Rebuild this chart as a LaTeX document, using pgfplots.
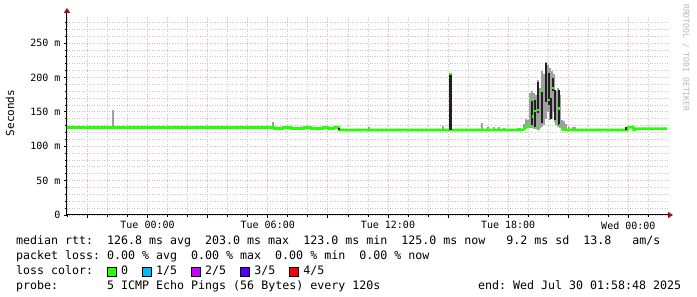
\documentclass[border=0pt]{standalone}
\usepackage{fontspec}
\setmainfont{DejaVu Sans Mono}
\setmonofont{DejaVu Sans Mono}
\usepackage{pgfplots}
\pgfplotsset{compat=1.18}
\usetikzlibrary{arrows.meta}
\definecolor{mgrid}{RGB}{240,175,175}
\definecolor{mingrid}{RGB}{200,200,200}
\definecolor{medgreen}{HTML}{26FF00}
\definecolor{smoke}{RGB}{160,160,160}
\definecolor{darksmoke}{RGB}{32,32,32}
\definecolor{arrowred}{RGB}{150,20,20}
\definecolor{lA}{HTML}{00B8FF}
\definecolor{lB}{HTML}{CC00FF}
\definecolor{lC}{HTML}{5500FF}
\definecolor{lD}{HTML}{FF0000}
\newcommand\lbox[1]{\makebox[7pt][l]{\raisebox{-1pt}{\fboxsep=0pt\fboxrule=0.8pt\fbox{\textcolor{#1}{\rule{8pt}{8.5pt}}}}}}
\begin{document}
\begin{tikzpicture}[x=1pt,y=1pt]
\path[use as bounding box, fill=white] (-67,-82) rectangle (630,215);
\begin{axis}[
  at={(0,0)}, anchor=south west, scale only axis,
  width=601pt, height=198.1pt,
  xmin=-4.02, xmax=25.98, ymin=0, ymax=288,
  no markers,
  axis x line=bottom, axis y line=left,
  axis line style={black, line width=1pt},
  x axis line style={-{Triangle[length=5pt,width=6pt,color=arrowred]}, shorten >=-5pt},
  y axis line style={-{Triangle[length=5pt,width=6pt,color=arrowred]}, shorten >=-9pt},
  tick align=outside, major tick length=3pt, minor tick length=2pt,
  tick style={black, line width=0.7pt},
  xtick={-3,0,...,24},
  xticklabels={,Tue 00:00,,Tue 06:00,,Tue 12:00,,Tue 18:00,,Wed 00:00},
  minor xtick={-4,-2,-1,1,2,4,5,7,8,10,11,13,14,16,17,19,20,22,23,25},
  ytick={0,50,...,250},
  yticklabels={0,50 m,100 m,150 m,200 m,250 m},
  minor ytick={10,20,30,40,60,70,80,90,110,120,130,140,160,170,180,190,210,220,230,240,260,270,280},
  grid=both,
  major grid style={mgrid, line width=0.7pt, dash pattern=on 1pt off 1.5pt},
  minor grid style={mingrid, line width=0.7pt, dash pattern=on 1pt off 1.5pt},
  tick label style={font=\fontsize{10}{12}\selectfont\ttfamily},
]
% gray smoke
\addplot[smoke, line width=2pt, unbounded coords=jump] coordinates {
(-1.725,127) (-1.725,152) (-1.725,nan)
(6.285,127) (6.285,135) (6.285,nan)
(11.05,124) (11.05,128) (11.05,nan)
(14.75,124) (14.75,130) (14.75,nan)
(16.7,124) (16.7,134) (16.7,nan)
(17.0,124) (17.0,127.5) (17.0,nan)
(17.3,124) (17.3,128.5) (17.3,nan)
(17.55,124) (17.55,128) (17.55,nan)
(17.8,124) (17.8,126.5) (17.8,nan)
(18.5,124) (18.5,127) (18.5,nan)
(18.6,124) (18.6,127) (18.6,nan)
(18.8,125) (18.8,133) (18.8,nan)
(18.9,126) (18.9,140) (18.9,nan)
(19.0,126) (19.0,138) (19.0,nan)
(19.1,126) (19.1,178) (19.1,nan)
(19.2,126) (19.2,180) (19.2,nan)
(19.3,125) (19.3,178) (19.3,nan)
(19.4,125) (19.4,175) (19.4,nan)
(19.5,124) (19.5,196) (19.5,nan)
(19.6,126) (19.6,185) (19.6,nan)
(19.7,128) (19.7,209) (19.7,nan)
(19.8,131) (19.8,205) (19.8,nan)
(19.9,140) (19.9,222) (19.9,nan)
(20.0,150) (20.0,218) (20.0,nan)
(20.1,138) (20.1,213) (20.1,nan)
(20.2,140) (20.2,210) (20.2,nan)
(20.3,150) (20.3,205) (20.3,nan)
(20.4,131) (20.4,180) (20.4,nan)
(20.5,128) (20.5,185) (20.5,nan)
(20.6,126) (20.6,175) (20.6,nan)
(20.7,124) (20.7,138) (20.7,nan)
(20.8,124) (20.8,136) (20.8,nan)
(20.9,124) (20.9,132) (20.9,nan)
(21.05,124) (21.05,128) (21.05,nan)
(21.25,124) (21.25,128) (21.25,nan)
(21.35,124) (21.35,128) (21.35,nan)
};
% median line
\addplot[medgreen, line width=2.6pt, unbounded coords=jump] coordinates {
(-4.02,127.2) (6.3,127.2) (6.32,125.8) (6.75,125.8) (6.77,127.2) (7.15,127.2)
(7.17,125.8) (7.8,125.8) (7.82,127.2) (8.15,127.2) (8.17,125.8) (8.75,125.8)
(8.77,127.2) (9.0,127.2) (9.02,125.8) (9.3,125.8) (9.32,127.2) (9.55,127.2)
(9.57,123.5) (18.7,123.5) (18.8,125) (18.9,127.5) (19.0,128) (19.12,129) (19.12,nan)
(20.65,126) (20.75,124) (20.85,123.5) (23.95,123.5) (24.0,127.5) (24.25,127.5)
(24.27,123.5) (24.32,123.5) (24.35,125.5) (25.95,125.5)
};
% dark smoke
\addplot[darksmoke, line width=3pt] coordinates {(15.125,123.5) (15.125,205)};
\addplot[darksmoke, line width=2pt, unbounded coords=jump] coordinates {
(19.175,131) (19.175,170) (19.175,nan)
(19.35,128) (19.35,167) (19.35,nan)
(19.5,148) (19.5,194) (19.5,nan)
(19.675,134) (19.675,182) (19.675,nan)
(19.9,165) (19.9,221) (19.9,nan)
(20.05,160) (20.05,206) (20.05,nan)
(20.125,140) (20.125,170) (20.125,nan)
(20.25,180) (20.25,199) (20.25,nan)
(20.35,137) (20.35,182) (20.35,nan)
(20.55,131) (20.55,182) (20.55,nan)
(23.9,124) (23.9,128) (23.9,nan)
(9.55,123) (9.55,127)
};
% median dots
\addplot[medgreen, line width=2.4pt, unbounded coords=jump] coordinates {
(15.07,205) (15.18,205) (15.18,nan)
(19.13,168) (19.23,168) (19.23,nan)
(19.2,143) (19.3,143) (19.3,nan)
(19.3,151) (19.4,151) (19.4,nan)
(19.45,153) (19.55,153) (19.55,nan)
(19.5,126) (19.6,126) (19.6,nan)
(19.65,181) (19.75,181) (19.75,nan)
(20.0,167) (20.1,167) (20.1,nan)
(20.2,185) (20.3,185) (20.3,nan)
(20.3,137) (20.4,137) (20.4,nan)
(20.5,155) (20.6,155) (20.6,nan)
(20.55,131) (20.65,131)
};
\end{axis}
\node[rotate=90, font=\fontsize{11}{13}\selectfont\ttfamily] at (-57,102) {Seconds};
\node[rotate=-90, anchor=west, inner sep=0, text=gray!55, font=\fontsize{8.1}{10}\selectfont\ttfamily] at (619,211) {RRDTOOL / TOBI OETIKER};
\begin{scope}[every node/.style={anchor=base west, inner sep=0, font=\fontsize{11.63}{14}\selectfont\ttfamily}]
\node at (-51,-30) {median~rtt:~~126.8~ms~avg~~203.0~ms~max~~123.0~ms~min~~125.0~ms~now~~~9.2~ms~sd~~13.8~~~am/s};
\node at (-51,-45) {packet~loss:~0.00~\%~avg~~0.00~\%~max~~0.00~\%~min~~0.00~\%~now};
\node at (-51,-60) {loss~color:~~\lbox{medgreen}~0~~\lbox{lA}~1/5~~\lbox{lB}~2/5~~\lbox{lC}~3/5~~\lbox{lD}~4/5};
\node at (-51,-75) {probe:~~~~~~~5~ICMP~Echo~Pings~(56~Bytes)~every~120s};
\node at (411,-75) {end:~Wed~Jul~30~01:58:48~2025};
\end{scope}
\end{tikzpicture}
\end{document}
